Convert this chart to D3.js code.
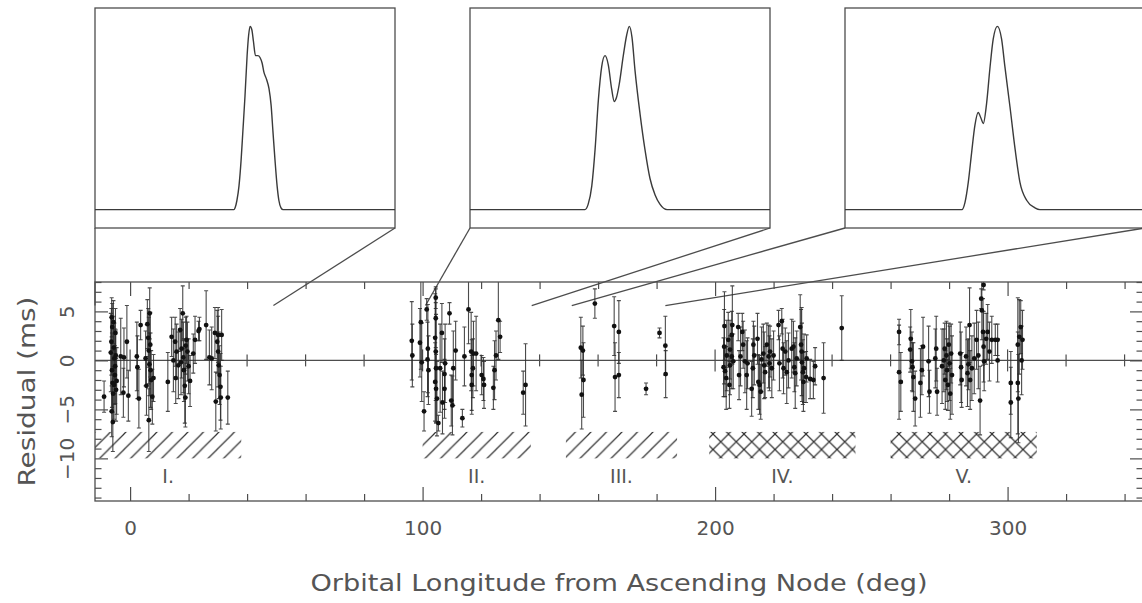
<!DOCTYPE html>
<html>
<head>
<meta charset="utf-8">
<script src="https://cdn.jsdelivr.net/npm/d3@7"></script>
<style>
  body { margin: 0; background: #fff; }
  svg text { font-family: "DejaVu Sans", sans-serif; fill: #555; }
</style>
</head>
<body>
<div id="graphique"></div>
<script>
// Timing residuals vs orbital longitude: [longitude (deg), residual (ms), error (ms)]
const pointsI = [
  [-8.9,-3.7,1.6],
  [-6.3,4.4,2.0],[-6.1,3.4,2.4],[-6.4,1.9,3.4],[-6.6,0.8,4.0],[-6.2,-1.0,3.8],[-6.0,-2.3,3.0],
  [-6.3,-5.2,2.6],[-5.9,-6.3,3.0],[-5.5,-2.5,3.5],[-5.2,-1.5,3.0],[-5.4,0.2,3.6],[-5.6,1.3,3.2],
  [-5.0,2.8,2.5],[-5.1,-0.6,3.8],[-4.8,-3.0,3.2],[-5.7,3.9,2.2],[-4.6,-2.1,3.4],[-5.8,-3.4,2.8],
  [-4.9,0.5,2.6],
  [-3.2,0.4,3.9],[-2.1,0.3,3.0],[-2.3,-3.3,2.5],[-1.1,1.9,3.7],[-0.6,-3.6,2.6],
  [2.3,0.4,3.5],[2.5,-0.7,3.2],[3.0,-3.9,3.0],[3.6,3.6,1.5],[5.3,0.2,2.8],[5.9,3.7,2.5],
  [6.2,2.3,3.0],[6.4,1.0,3.4],[6.6,-0.4,3.2],[7.0,-1.0,3.8],[7.2,-2.0,3.0],[6.4,-6.1,3.2],
  [7.6,-3.7,2.8],[6.7,4.8,2.6],[8.0,-1.8,2.4],[5.6,-2.6,3.0],[6.9,1.6,3.3],
  [12.9,-2.2,3.0],[14.2,2.4,2.0],[14.8,0.0,3.2],[15.4,1.9,2.5],[15.9,0.9,2.8],[16.5,-0.5,3.4],
  [15.6,-1.8,2.6],[17.1,3.1,2.2],[17.6,1.2,3.0],[18.0,4.8,2.8],[18.2,0.3,3.6],[18.4,-1.0,3.2],
  [18.7,-2.6,3.8],[18.9,-3.8,3.0],[19.3,2.1,2.4],[19.6,0.9,3.0],[20.0,-0.6,2.8],[20.5,-2.1,2.6],
  [21.6,0.7,2.0],[22.2,2.1,2.4],[23.7,3.2,1.2],[23.4,3.0,1.0],[17.4,-0.2,3.3],[19.0,1.5,2.9],
  [26.0,3.6,3.5],[27.1,0.3,2.8],[27.9,0.2,3.2],[29.0,2.8,2.6],[29.3,-4.2,3.0],[29.8,1.9,3.2],
  [30.1,0.9,3.6],[30.3,-0.5,3.4],[30.6,-1.5,3.0],[30.9,-2.7,3.4],[30.1,2.6,2.8],[31.3,2.6,2.6],
  [31.0,-3.8,3.2],[33.4,-3.8,2.7]
];
const pointsII = [
  [96.3,2.0,4.0],[96.5,0.5,3.2],[99.4,3.9,4.8],[99.1,1.8,3.5],[99.7,-0.2,4.0],[100.5,-5.2,2.0],
  [101.4,5.2,1.1],[101.8,1.2,4.5],[101.7,0.1,3.8],[102.0,-1.0,3.5],[104.5,6.4,1.1],[104.5,4.3,3.0],
  [104.3,2.3,4.5],[104.5,0.9,5.0],[104.6,-0.8,5.5],[104.3,-2.2,4.0],[104.6,-2.9,3.5],[104.9,-3.9,3.8],
  [105.4,-6.4,0.8],[106.0,-0.8,4.5],[106.6,2.8,3.0],[106.8,-4.3,3.2],[107.5,-1.4,3.6],[107.5,-2.9,3.0],
  [107.7,-0.3,4.0],[109.2,4.8,1.1],[109.8,-4.1,2.6],[110.2,-4.6,3.0],[110.5,-0.8,3.8],[111.3,1.0,3.0],
  [113.6,-5.9,0.9],[114.3,0.4,3.0],[115.7,5.2,3.5],[116.6,0.9,4.0],[117.2,-0.8,3.0],[116.8,-1.5,3.6],
  [117.4,0.7,3.3],[116.8,-2.5,3.0],[118.3,0.7,3.8],[120.2,-1.5,2.0],[120.8,-1.9,2.2],[121.0,-2.5,2.4],
  [124.6,-1.0,3.0],[124.2,-2.8,2.2],[125.1,0.5,2.5],[125.9,4.1,4.0],[126.5,2.4,1.6],[134.4,-3.3,2.2],
  [135.2,-2.5,4.2]
];
const pointsIII = [
  [154.1,1.3,3.1],[154.8,1.0,2.5],[155.0,-2.0,3.8],[154.4,-3.5,3.5],[158.9,5.8,1.5],[165.5,3.5,3.0],
  [165.8,-1.7,3.5],[167.1,-1.5,2.3],[167.1,2.9,3.2],[176.4,-2.9,0.6],[181.0,2.8,0.5],[183.0,1.5,3.0],
  [183.1,-1.4,2.4]
];
const pointsIV = [
  [203.2,3.5,3.5],[203.1,1.4,3.8],[202.9,-0.7,3.0],[203.4,-1.1,2.6],[203.8,-1.8,3.2],[204.9,-2.5,2.4],
  [204.0,0.5,3.6],[204.5,2.1,2.8],[205.1,1.1,3.0],[205.7,2.6,2.4],[205.9,3.6,4.0],[206.2,-0.1,2.8],
  [205.7,0.4,3.3],[205.1,-0.5,3.0],[207.9,3.4,1.4],[208.2,-1.5,2.5],[208.7,0.4,3.0],[209.3,2.9,1.9],
  [209.6,1.6,2.4],[210.2,-0.1,3.2],[210.8,-1.5,3.5],[211.1,-0.3,2.6],[212.5,-2.9,2.8],[212.9,-0.8,3.0],
  [213.1,1.6,2.4],[213.4,0.5,3.0],[214.5,2.2,2.6],[214.8,-2.2,2.8],[215.2,-2.5,3.0],[215.6,-3.2,2.8],
  [215.9,0.1,3.3],[216.5,0.7,3.0],[216.8,-0.5,3.4],[217.1,-1.2,2.6],[217.7,1.6,2.2],[218.3,0.4,3.2],
  [218.6,-0.3,2.8],[218.8,0.9,2.6],[219.4,-0.8,3.0],[220.0,0.5,2.5],[221.7,3.6,1.5],[222.0,-0.3,2.8],
  [222.8,4.0,1.3],[223.1,1.2,3.0],[223.4,-0.8,2.6],[224.0,0.9,2.4],[224.5,-1.2,3.2],[225.1,0.0,2.8],
  [226.2,1.2,3.0],[226.8,1.4,2.6],[227.1,-0.7,2.5],[227.4,-1.3,3.6],[227.9,0.2,2.8],[229.1,3.4,3.3],
  [229.4,1.6,3.6],[229.6,0.9,4.5],[229.7,-0.2,4.0],[230.0,-1.2,3.3],[230.2,-2.2,3.0],[230.4,-0.8,3.5],
  [231.3,0.2,2.4],[231.1,-1.7,2.6],[232.5,-1.9,2.0],[233.6,-2.0,1.9],[234.2,-0.6,1.9],[237.1,-1.8,3.6],
  [243.3,3.3,3.3]
];
const pointsV = [
  [262.9,2.9,1.3],[262.9,-1.2,4.8],[263.5,-2.2,3.0],[266.7,1.1,2.3],[266.9,2.2,3.0],[267.3,-0.1,3.0],
  [267.5,-0.7,2.5],[267.8,-1.7,3.5],[268.4,-3.9,2.8],[270.2,-2.3,3.5],[270.7,-1.0,2.5],[271.1,1.4,3.0],
  [273.0,-0.1,3.6],[273.3,-3.2,2.2],[275.3,0.2,3.0],[275.6,1.2,3.3],[275.9,-3.2,2.4],[277.6,-0.6,3.8],
  [278.2,0.0,3.2],[278.5,1.2,2.6],[278.7,-2.0,3.0],[279.1,0.5,3.5],[279.3,-1.0,3.2],[279.6,-2.5,2.6],
  [279.9,1.6,2.2],[280.2,-0.3,3.8],[280.4,-3.4,2.6],[280.7,0.7,3.0],[281.0,-1.5,4.0],[283.8,0.7,3.2],
  [284.1,-0.7,3.6],[284.3,-2.0,2.8],[285.8,0.4,3.0],[286.3,-1.3,3.4],[286.6,-0.4,2.6],[287.0,3.6,3.8],
  [287.2,-2.0,3.0],[287.8,-0.8,3.3],[288.6,0.2,3.6],[289.4,2.1,3.0],[290.0,0.5,3.4],[290.6,-4.1,3.5],
  [291.0,6.3,1.0],[291.2,5.1,3.0],[291.6,2.9,3.4],[291.8,7.7,0.5],[291.8,1.4,3.6],[292.0,-0.1,3.0],
  [292.7,2.2,2.6],[293.2,2.9,2.8],[293.8,0.9,3.0],[294.6,2.1,2.4],[295.8,2.1,1.6],[296.6,2.1,1.6],
  [296.6,0.0,2.2],[301.1,-2.3,3.2],[301.1,-4.3,3.6],[303.5,1.6,4.8],[303.5,-2.3,5.2],[303.7,-3.9,4.5],
  [304.0,2.4,3.8],[304.5,3.4,2.7],[304.8,0.0,3.5],[305.1,2.1,3.0]
];

// Hatched bands marking the five orbital regions
const bandLabels = ['I.', 'II.', 'III.', 'IV.', 'V.'];
const bandStart = [-12, 100, 149, 198, 260];
const bandEnd = [38, 137, 187, 248, 310];
const bandCrossed = [false, false, false, true, true];
const bandLow = -10.0;
const bandHigh = -7.3;

// Pulse profiles in the three insets: [phase, normalised flux]
const profile1 = [
  [0,0],[0.463,0],[0.467,0.01],[0.473,0.05],[0.48,0.13],[0.487,0.27],[0.493,0.43],[0.5,0.62],
  [0.507,0.84],[0.512,0.95],[0.517,1.0],[0.523,0.98],[0.528,0.92],[0.535,0.84],[0.543,0.84],
  [0.55,0.83],[0.557,0.8],[0.563,0.75],[0.572,0.71],[0.58,0.66],[0.587,0.57],[0.593,0.43],
  [0.6,0.27],[0.607,0.13],[0.613,0.05],[0.62,0.01],[0.627,0],[1,0]
];
const profile2 = [
  [0,0],[0.383,0],[0.394,0.03],[0.406,0.13],[0.417,0.33],[0.428,0.6],[0.439,0.78],[0.45,0.84],
  [0.461,0.79],[0.472,0.66],[0.481,0.59],[0.488,0.61],[0.497,0.68],[0.511,0.84],[0.522,0.95],
  [0.531,1.0],[0.54,0.94],[0.55,0.76],[0.567,0.52],[0.583,0.33],[0.6,0.17],[0.617,0.08],
  [0.633,0.03],[0.657,0],[1,0]
];
const profile3 = [
  [0,0],[0.39,0],[0.4,0.04],[0.411,0.15],[0.422,0.31],[0.433,0.46],[0.444,0.53],[0.453,0.5],
  [0.461,0.47],[0.472,0.58],[0.483,0.77],[0.494,0.93],[0.508,1.0],[0.522,0.93],[0.533,0.78],
  [0.55,0.56],[0.567,0.33],[0.583,0.15],[0.606,0.05],[0.633,0.01],[0.65,0],[1,0]
];
// Longitude span pointed at by each inset, and the residual where the pointers end
const insetSpans = [[-12, 49], [101, 137.3], [151, 183]];
const pointerResidual = 5.6;

const xMajorTicks = [0, 100, 200, 300];
const yMajorTicks = [-10, -5, 0, 5];

// Canvas
const largeur = 1142, hauteur = 603;
const svg = d3.select('#graphique').append('svg')
    .attr('width', largeur).attr('height', hauteur);

const x = d3.scaleLinear().domain([-12, 346.3]).range([95, 1143]);
const y = d3.scaleLinear().domain([-14.35, 8.0]).range([501, 282]);
const gris = '#4d4d4d';

// Patterns for the hatched bands
const pas = 15.5;
const defs = svg.append('defs');
const simple = 'M0,' + pas + ' L' + pas + ',0 M' + (-pas/2) + ',' + (pas/2) + ' L' + (pas/2) + ',' + (-pas/2) +
    ' M' + (pas/2) + ',' + (pas*1.5) + ' L' + (pas*1.5) + ',' + (pas/2);
const inverse = 'M0,0 L' + pas + ',' + pas + ' M' + (-pas/2) + ',' + (pas/2) + ' L' + (pas/2) + ',' + (pas*1.5) +
    ' M' + (pas/2) + ',' + (-pas/2) + ' L' + (pas*1.5) + ',' + (pas/2);
defs.append('pattern').attr('id', 'hachure').attr('patternUnits', 'userSpaceOnUse')
    .attr('width', pas).attr('height', pas)
  .append('path').attr('d', simple).attr('stroke', '#333').attr('stroke-width', 1.2);
defs.append('pattern').attr('id', 'croise').attr('patternUnits', 'userSpaceOnUse')
    .attr('width', pas).attr('height', pas)
  .append('path').attr('d', simple + ' ' + inverse).attr('stroke', '#333').attr('stroke-width', 1.2);
defs.append('clipPath').attr('id', 'cadre')
  .append('rect').attr('x', x.range()[0]).attr('y', y.range()[1])
    .attr('width', x.range()[1] - x.range()[0]).attr('height', y.range()[0] - y.range()[1]);

// Insets with pulse profiles
const profils = [profile1, profile2, profile3];
const insetLeft = [95, 470, 845];
const insetWidth = 300;
const yInset = d3.scaleLinear().domain([-0.1, 1.1]).range([228, 8]);
profils.forEach((profil, i) => {
  const xInset = d3.scaleLinear().domain([0, 1]).range([insetLeft[i], insetLeft[i] + insetWidth]);
  svg.append('rect')
      .attr('x', insetLeft[i]).attr('y', yInset(1.1))
      .attr('width', insetWidth).attr('height', yInset(-0.1) - yInset(1.1))
      .attr('fill', 'none').attr('stroke', gris).attr('stroke-width', 1.3);
  svg.append('path')
      .datum(profil)
      .attr('fill', 'none').attr('stroke', '#3a3a3a').attr('stroke-width', 1.4)
      .attr('d', d3.line().x(d => xInset(d[0])).y(d => yInset(d[1])).curve(d3.curveMonotoneX));
  // pointers from the inset corners down to the main plot
  [0, 1].forEach(k => {
    svg.append('line')
        .attr('x1', insetLeft[i] + k * insetWidth).attr('y1', yInset(-0.1))
        .attr('x2', x(insetSpans[i][k])).attr('y2', y(pointerResidual))
        .attr('stroke', gris).attr('stroke-width', 1.3);
  });
});

// Main frame
const zone = svg.append('g').attr('clip-path', 'url(#cadre)');

// Hatched bands
zone.selectAll('rect.bande')
    .data(bandLabels)
    .enter().append('rect')
    .attr('class', 'bande')
    .attr('x', (d, i) => x(bandStart[i]))
    .attr('y', y(bandHigh))
    .attr('width', (d, i) => x(bandEnd[i]) - x(bandStart[i]))
    .attr('height', y(bandLow) - y(bandHigh))
    .attr('fill', (d, i) => bandCrossed[i] ? 'url(#croise)' : 'url(#hachure)');

svg.selectAll('text.region')
    .data(bandLabels)
    .enter().append('text')
    .attr('class', 'region')
    .attr('x', (d, i) => x((bandStart[i] + bandEnd[i]) / 2))
    .attr('y', 483)
    .attr('text-anchor', 'middle')
    .attr('font-size', 19)
    .text(d => d);

// Zero line with its own ticks
zone.append('line')
    .attr('x1', x.range()[0]).attr('x2', x.range()[1])
    .attr('y1', y(0)).attr('y2', y(0))
    .attr('stroke', gris).attr('stroke-width', 1.3);
const xTousTicks = d3.range(-0, 346, 20);
zone.selectAll('line.zerotick')
    .data(xTousTicks)
    .enter().append('line')
    .attr('class', 'zerotick')
    .attr('x1', d => x(d)).attr('x2', d => x(d))
    .attr('y1', d => y(0) - (xMajorTicks.indexOf(d) >= 0 ? 11 : 6))
    .attr('y2', d => y(0) + (xMajorTicks.indexOf(d) >= 0 ? 11 : 6))
    .attr('stroke', gris).attr('stroke-width', 1.2);

// Residuals with error bars
const points = [].concat(pointsI, pointsII, pointsIII, pointsIV, pointsV);
const barres = zone.append('g').attr('stroke', '#2b2b2b').attr('stroke-width', 1.1).attr('stroke-opacity', 0.85);
barres.selectAll('path')
    .data(points)
    .enter().append('path')
    .attr('d', d => {
      const px = x(d[0]), haut = y(d[1] + d[2]), bas = y(d[1] - d[2]);
      return 'M' + px + ',' + haut + 'V' + bas +
        'M' + (px - 2) + ',' + haut + 'H' + (px + 2) +
        'M' + (px - 2) + ',' + bas + 'H' + (px + 2);
    })
    .attr('fill', 'none');
zone.selectAll('circle.point')
    .data(points)
    .enter().append('circle')
    .attr('class', 'point')
    .attr('r', 2.4)
    .attr('cx', d => x(d[0]))
    .attr('cy', d => y(d[1]))
    .attr('fill', '#111');

// Axes
const xMinor = xTousTicks.filter(v => xMajorTicks.indexOf(v) < 0);
const yMinor = d3.range(-14, 9, 1).filter(v => yMajorTicks.indexOf(v) < 0);

function styliser(g) {
  g.select('.domain').remove();
  g.selectAll('line').attr('stroke', gris).attr('stroke-width', 1.2);
  g.attr('font-family', null).attr('font-size', null);
}

const bas = svg.append('g').attr('transform', 'translate(0,' + y.range()[0] + ')');
bas.call(d3.axisBottom(x).tickValues(xMajorTicks).tickSizeInner(-14).tickSizeOuter(0)
    .tickPadding(20).tickFormat(d3.format('d'))).call(styliser);
bas.selectAll('text').attr('font-size', 20).attr('fill', '#555');
svg.append('g').attr('transform', 'translate(0,' + y.range()[0] + ')')
    .call(d3.axisBottom(x).tickValues(xMinor).tickSizeInner(-7).tickSizeOuter(0).tickFormat('')).call(styliser);
svg.append('g').attr('transform', 'translate(0,' + y.range()[1] + ')')
    .call(d3.axisTop(x).tickValues(xMajorTicks).tickSizeInner(-14).tickSizeOuter(0).tickFormat('')).call(styliser);
svg.append('g').attr('transform', 'translate(0,' + y.range()[1] + ')')
    .call(d3.axisTop(x).tickValues(xMinor).tickSizeInner(-7).tickSizeOuter(0).tickFormat('')).call(styliser);

const gauche = svg.append('g').attr('transform', 'translate(' + x.range()[0] + ',0)');
gauche.call(d3.axisLeft(y).tickValues(yMajorTicks).tickSizeInner(-13).tickSizeOuter(0)
    .tickFormat(d3.format('d'))).call(styliser);
gauche.selectAll('.tick text')
    .attr('x', null).attr('dy', '0.35em')
    .attr('y', -28)
    .attr('text-anchor', 'middle')
    .attr('transform', 'rotate(-90)')
    .attr('font-size', 20).attr('fill', '#555');
svg.append('g').attr('transform', 'translate(' + x.range()[0] + ',0)')
    .call(d3.axisLeft(y).tickValues(yMinor).tickSizeInner(-6.5).tickSizeOuter(0).tickFormat('')).call(styliser);
svg.append('g').attr('transform', 'translate(' + x.range()[1] + ',0)')
    .call(d3.axisRight(y).tickValues(yMajorTicks).tickSizeInner(-13).tickSizeOuter(0).tickFormat('')).call(styliser);
svg.append('g').attr('transform', 'translate(' + x.range()[1] + ',0)')
    .call(d3.axisRight(y).tickValues(yMinor).tickSizeInner(-6.5).tickSizeOuter(0).tickFormat('')).call(styliser);

svg.append('rect')
    .attr('x', x.range()[0]).attr('y', y.range()[1])
    .attr('width', x.range()[1] - x.range()[0]).attr('height', y.range()[0] - y.range()[1])
    .attr('fill', 'none').attr('stroke', gris).attr('stroke-width', 1.3);

// Axis titles
svg.append('text')
    .attr('x', (x.range()[0] + x.range()[1]) / 2).attr('y', 591)
    .attr('text-anchor', 'middle').attr('font-size', 23)
    .attr('textLength', 617).attr('lengthAdjust', 'spacingAndGlyphs')
    .text('Orbital Longitude from Ascending Node (deg)');
svg.append('text')
    .attr('transform', 'translate(35,' + (y.range()[0] + y.range()[1]) / 2 + ') rotate(-90)')
    .attr('text-anchor', 'middle').attr('font-size', 23)
    .attr('textLength', 190).attr('lengthAdjust', 'spacingAndGlyphs')
    .text('Residual (ms)');
</script>
</body>
</html>
